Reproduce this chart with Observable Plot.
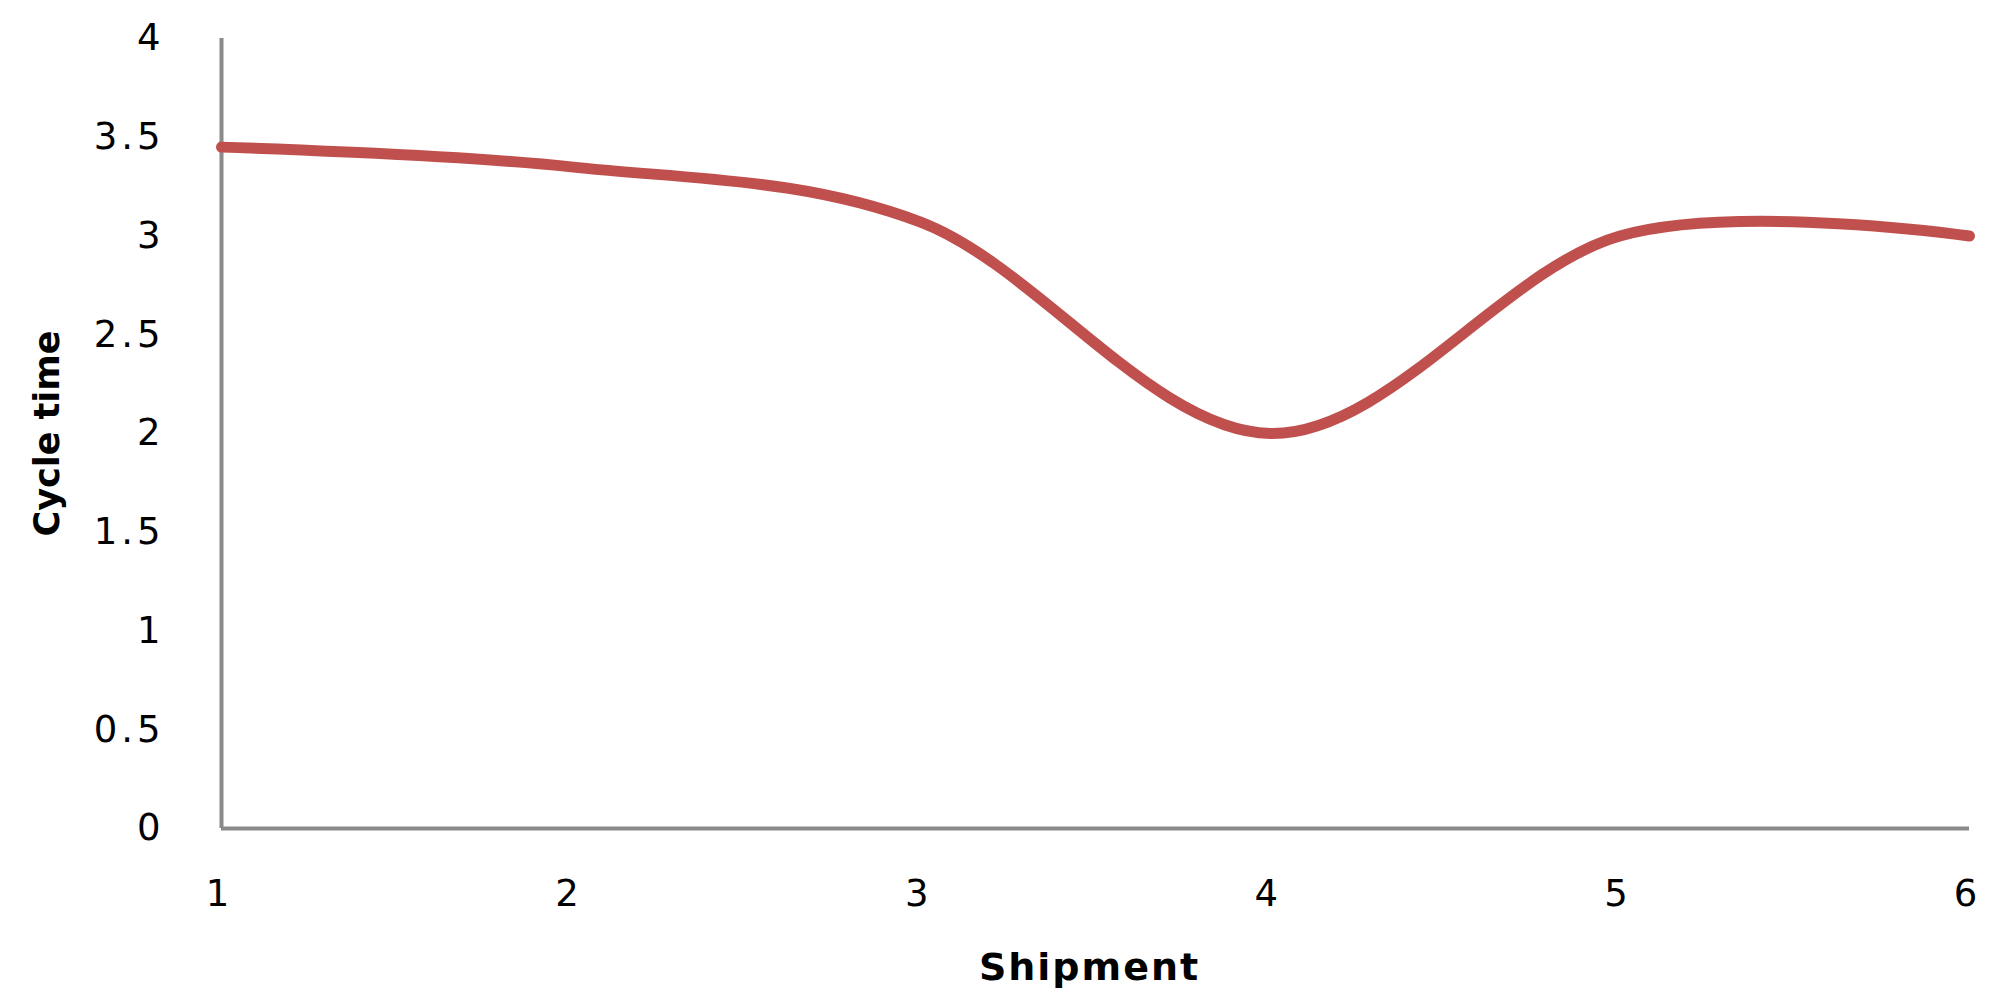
<!DOCTYPE html>
<html lang="en">
<head>
<meta charset="UTF-8">
<title>Cycle time per shipment</title>
<script src="https://cdn.jsdelivr.net/npm/d3@7"></script>
<script src="https://cdn.jsdelivr.net/npm/@observablehq/plot@0.6"></script>
<style>
    body { margin: 0; background: #fff; }
    #chart svg { display: block; }
    #chart g[aria-label="y-axis tick label"] text,
    #chart g[aria-label="x-axis tick label"] text { letter-spacing: 4px; }
    #chart g.shipment-label text { letter-spacing: 2px; }
</style>
</head>
<body>
<div id="chart"></div>
<script>
// values
const shipments = [1, 2, 3, 4, 5, 6];
const cycleTime = [3.45, 3.35, 3.07, 2.0, 3.0, 3.0];
const yTicks = [0, 0.5, 1, 1.5, 2, 2.5, 3, 3.5, 4];
const xTicks = [1, 2, 3, 4, 5, 6];

const data = shipments.map((s, i) => ({shipment: s, cycle: cycleTime[i]}));

const plot = Plot.plot({
    width: 1995,
    height: 1004,
    marginLeft: 221,
    marginRight: 26,
    marginTop: 38,
    marginBottom: 176,
    style: {fontFamily: "'DejaVu Sans', Verdana, sans-serif", fontSize: "36px", color: "#000", background: "#fff"},
    x: {domain: [1, 6]},
    y: {domain: [0, 4]},
    marks: [
        Plot.axisY(yTicks, {tickSize: 0, tickPadding: 57, label: null, fontSize: 37, tickFormat: d => String(d)}),
        Plot.axisX(xTicks, {tickSize: 0, tickPadding: 51, dx: -2, label: null, fontSize: 37, tickFormat: d => String(d)}),
        Plot.ruleX([1], {stroke: "#8a8a8a", strokeWidth: 4}),
        Plot.ruleY([0], {stroke: "#8a8a8a", strokeWidth: 4}),
        Plot.line(data, {
            x: "shipment",
            y: "cycle",
            stroke: "#c0504d",
            strokeWidth: 11,
            curve: "cardinal",
            tension: 0
        }),
        Plot.text(["Cycle time"], {
            frameAnchor: "left",
            textAnchor: "middle",
            rotate: -90,
            dx: -174,
            fontSize: 35,
            fontWeight: "bold",
            fill: "#000"
        }),
        Plot.text(["Shipment"], {
            frameAnchor: "bottom",
            dx: -6,
            dy: 151,
            fontSize: 38,
            fontWeight: "bold",
            fill: "#000",
            className: "shipment-label"
        })
    ]
});

document.querySelector("#chart").append(plot);
</script>
</body>
</html>
